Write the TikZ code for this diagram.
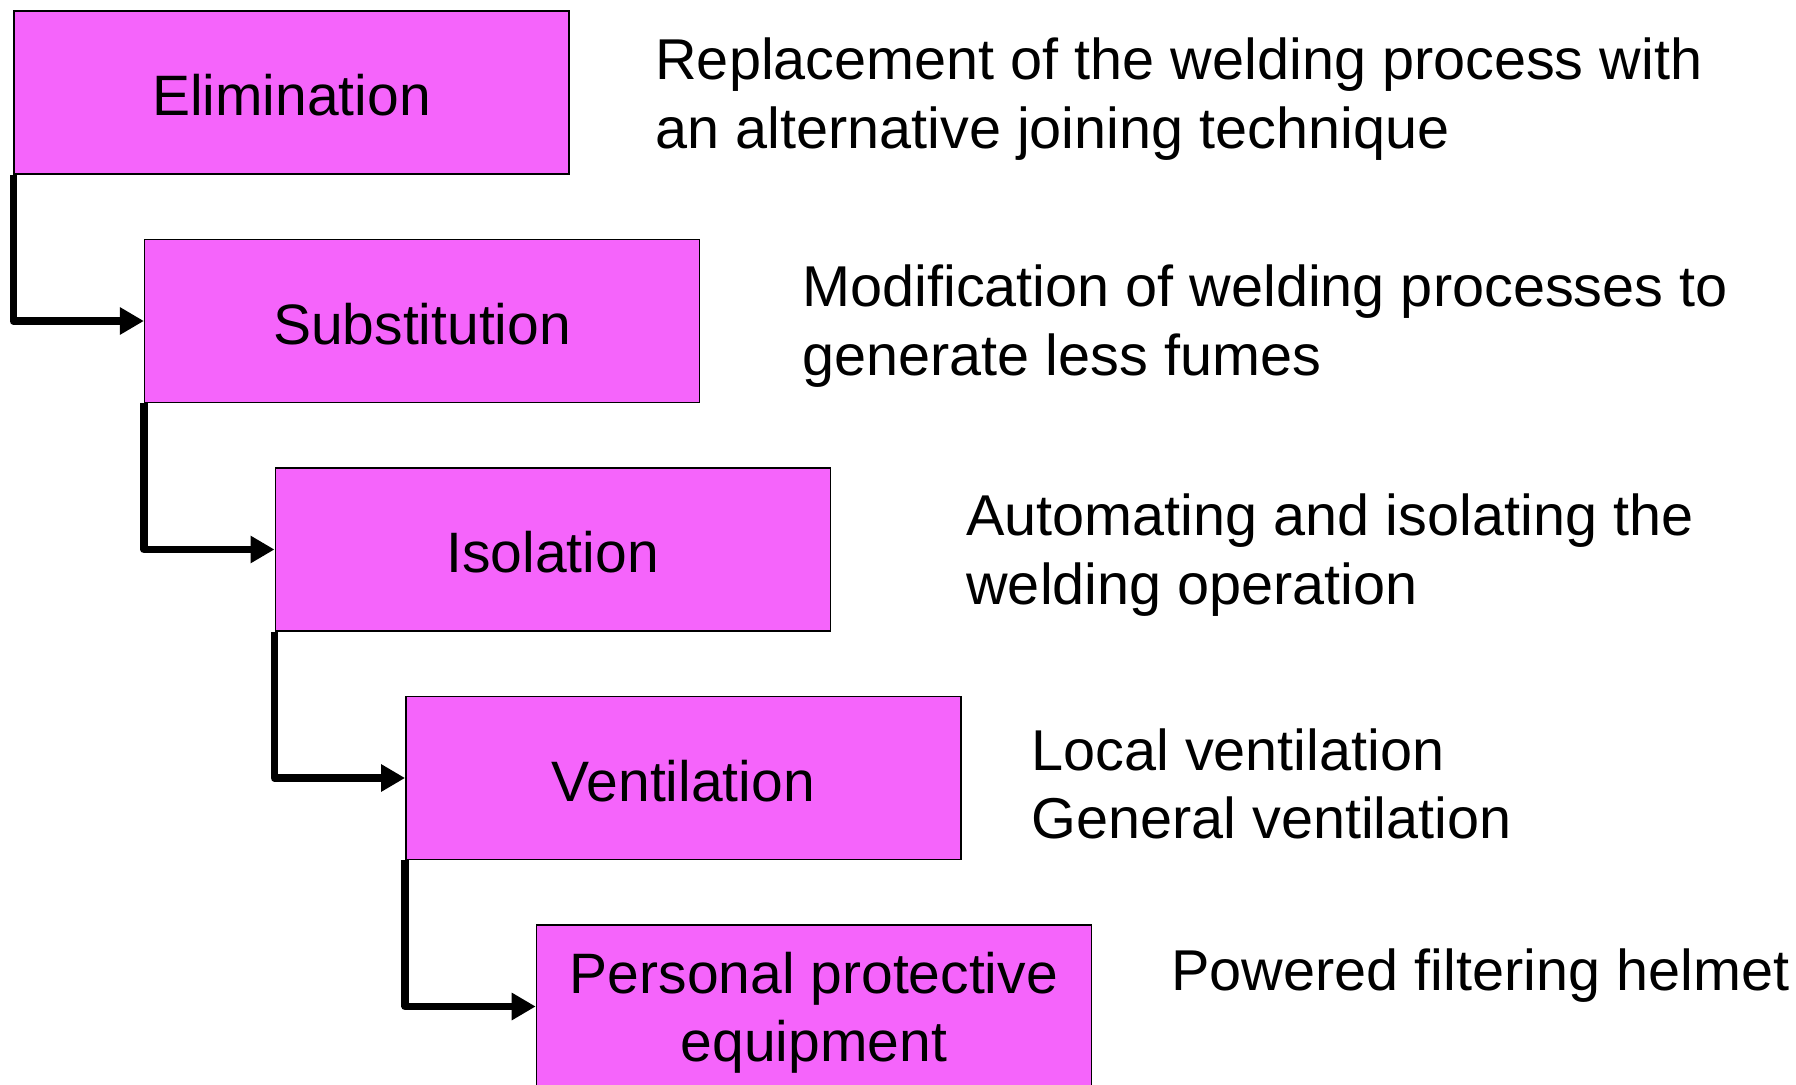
\documentclass[tikz,border=0pt]{standalone}
\usepackage{fontspec}
\setmainfont{Liberation Sans}
\usetikzlibrary{arrows.meta}
\definecolor{boxfill}{HTML}{F564FB}
\newcommand{\lowerstrut}[1]{\rule{0pt}{#1}}
\begin{document}
\begin{tikzpicture}[x=0.5pt,y=-0.5pt,
  stepbox/.style={draw=black,line width=0.7pt,fill=boxfill,minimum width=277.5pt,minimum height=81.5pt,inner sep=0pt,align=center,font=\fontsize{28.5}{34.35}\selectfont},
  desc/.style={anchor=west,inner sep=0pt,align=left,font=\fontsize{28.8}{34.35}\selectfont},
  conn/.style={line width=3.75pt,line join=round,-{Triangle[length=12pt,width=13pt]}}]
\useasboundingbox (0,0) rectangle (1796,1085);
\node[stepbox] (e) at (291.5,92.5) {\lowerstrut{23.3pt}Elimination};
\node[stepbox] (s) at (422.1,321) {\lowerstrut{23.3pt}Substitution};
\node[stepbox] (i) at (552.7,549.5) {\lowerstrut{23.3pt}Isolation};
\node[stepbox] (v) at (683.3,778) {\lowerstrut{23.3pt}Ventilation};
\node[stepbox] (p) at (813.9,1006.5) {\lowerstrut{26.8pt}Personal protective\\equipment};
\draw[conn] (e.south west) |- (s.west);
\draw[conn] (s.south west) |- (i.west);
\draw[conn] (i.south west) |- (v.west);
\draw[conn] (v.south west) |- (p.west);
\node[desc] (t1) at (655,99) {Replacement of the welding process with\\an alternative joining technique};
\node[desc] (t2) at (802,326) {Modification of welding processes to\\generate less fumes};
\node[desc] (t3) at (966,555) {Automating and isolating the\\welding operation};
\node[desc] (t4) at (1031,784) {Local ventilation\\General ventilation};
\node[desc] (t5) at (1171,976) {Powered filtering helmet};
\end{tikzpicture}
\end{document}
